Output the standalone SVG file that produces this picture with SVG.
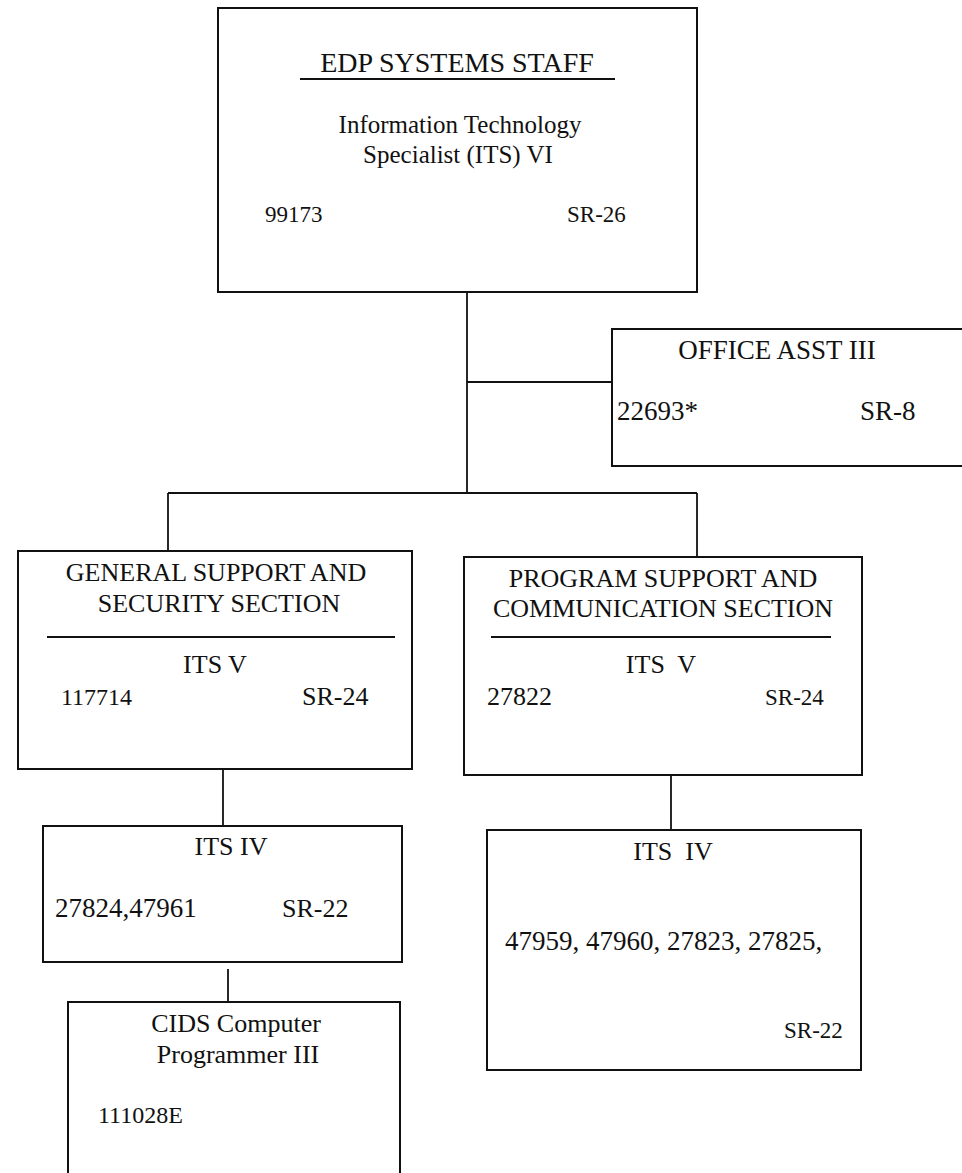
<svg xmlns="http://www.w3.org/2000/svg" width="962" height="1173" viewBox="0 0 962 1173">
  <style>
    .box { fill: #ffffff; stroke: #111111; stroke-width: 2; }
    .rule { stroke: #111111; stroke-width: 1.8; }
    .link { stroke: #111111; stroke-width: 1.8; fill: none; }
    text { font-family: "Liberation Serif", "Times New Roman", serif; fill: #111111; font-size: 26px; }
    .c { text-anchor: middle; }
    .pre { white-space: pre; }
  </style>
  <rect width="962" height="1173" fill="#ffffff"/>

  <!-- connectors -->
  <g id="connectors">
    <line class="link" x1="467" y1="292" x2="467" y2="493"/>
    <line class="link" x1="467" y1="382" x2="612" y2="382"/>
    <line class="link" x1="168" y1="493" x2="697" y2="493"/>
    <line class="link" x1="168" y1="493" x2="168" y2="551"/>
    <line class="link" x1="697" y1="493" x2="697" y2="557"/>
    <line class="link" x1="223" y1="769" x2="223" y2="826"/>
    <line class="link" x1="228" y1="969" x2="228" y2="1002"/>
    <line class="link" x1="671" y1="775" x2="671" y2="830"/>
  </g>

  <!-- EDP systems staff -->
  <g id="edp-staff">
    <rect class="box" x="218" y="8" width="479" height="284"/>
    <text class="c" x="457" y="72" style="font-size:28px">EDP SYSTEMS STAFF</text>
    <line class="rule" x1="300" y1="79" x2="615" y2="79"/>
    <text class="c" x="460" y="133" style="font-size:25px">Information Technology</text>
    <text class="c" x="458" y="163" style="font-size:25px">Specialist (ITS) VI</text>
    <text x="265" y="222" style="font-size:23px">99173</text>
    <text x="567" y="222" style="font-size:23px">SR-26</text>
  </g>

  <!-- Office assistant -->
  <g id="office-asst">
    <rect class="box" x="612" y="329" width="360" height="137"/>
    <text class="c" x="777" y="359" style="font-size:27px">OFFICE ASST III</text>
    <text x="617" y="420" style="font-size:27px">22693*</text>
    <text x="860" y="420" style="font-size:27px">SR-8</text>
  </g>

  <!-- General support and security section -->
  <g id="general-support">
    <rect class="box" x="18" y="551" width="394" height="218"/>
    <text class="c" x="216" y="581">GENERAL SUPPORT AND</text>
    <text class="c" x="219" y="612">SECURITY SECTION</text>
    <line class="rule" x1="47" y1="637" x2="395" y2="637"/>
    <text class="c" x="215" y="673">ITS V</text>
    <text x="61" y="705" style="font-size:24px">117714</text>
    <text x="302" y="705">SR-24</text>
  </g>

  <!-- Program support and communication section -->
  <g id="program-support">
    <rect class="box" x="464" y="557" width="398" height="218"/>
    <text class="c" x="663" y="587">PROGRAM SUPPORT AND</text>
    <text class="c" x="663" y="617">COMMUNICATION SECTION</text>
    <line class="rule" x1="491" y1="637" x2="831" y2="637"/>
    <text class="c pre" x="661" y="673">ITS  V</text>
    <text x="487" y="705">27822</text>
    <text x="765" y="705" style="font-size:23px">SR-24</text>
  </g>

  <!-- ITS IV, general support -->
  <g id="its-iv-general">
    <rect class="box" x="43" y="826" width="359" height="136"/>
    <text class="c" x="231" y="855">ITS IV</text>
    <text x="55" y="917" style="font-size:27px">27824,47961</text>
    <text x="282" y="917">SR-22</text>
  </g>

  <!-- CIDS computer programmer -->
  <g id="cids-programmer">
    <path class="box" d="M68 1180 V1002 H400 V1180"/>
    <text class="c" x="236" y="1032">CIDS Computer</text>
    <text class="c" x="238" y="1063">Programmer III</text>
    <text x="98" y="1123" style="font-size:24px">111028E</text>
  </g>

  <!-- ITS IV, program support -->
  <g id="its-iv-program">
    <rect class="box" x="487" y="830" width="374" height="240"/>
    <text class="c pre" x="673" y="860">ITS  IV</text>
    <text x="505" y="950" style="font-size:27px">47959, 47960, 27823, 27825,</text>
    <text x="784" y="1038" style="font-size:23px">SR-22</text>
  </g>
</svg>
